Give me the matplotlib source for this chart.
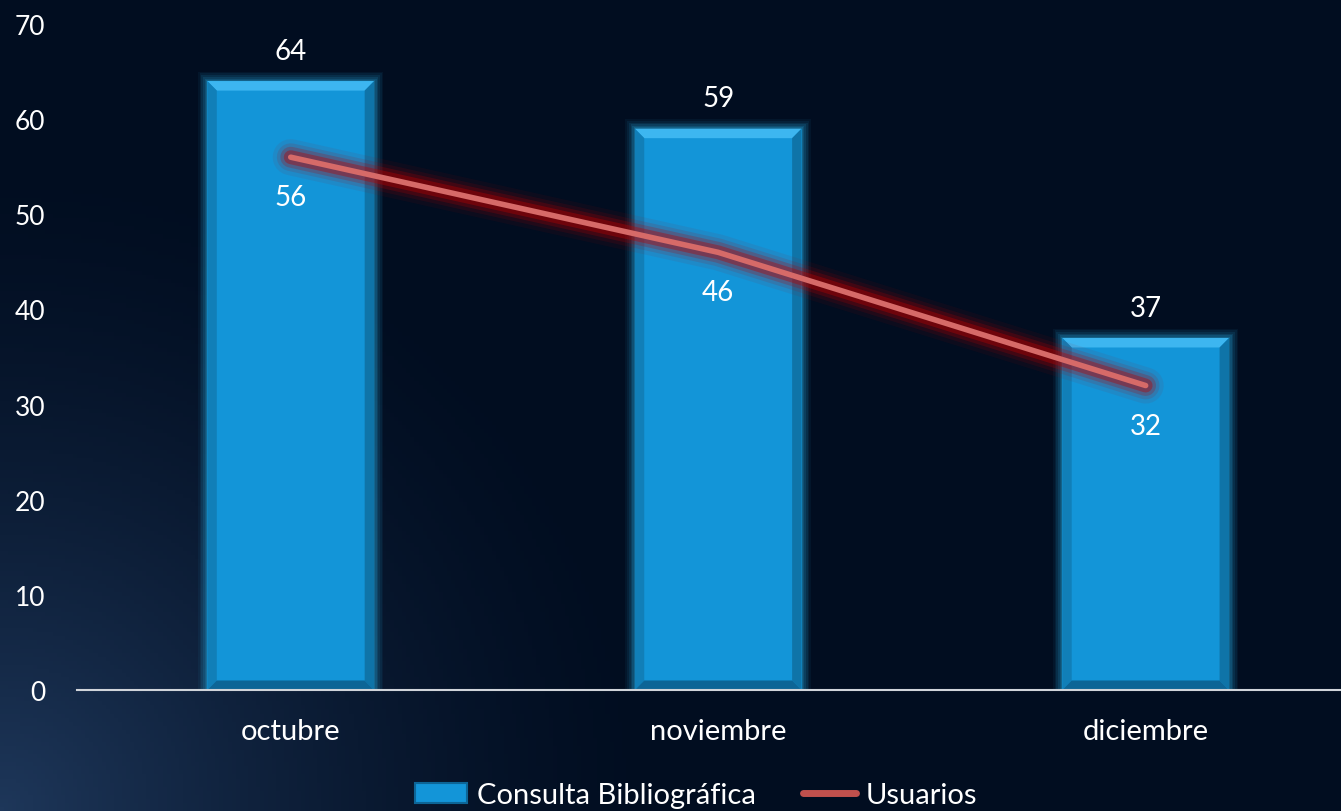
import numpy as np
import matplotlib
matplotlib.use("Agg")
import matplotlib.pyplot as plt
from matplotlib.patches import Polygon, Rectangle
from matplotlib.lines import Line2D

categories = ["octubre", "noviembre", "diciembre"]
consulta = [64, 59, 37]
usuarios = [56, 46, 32]
yticks = [0, 10, 20, 30, 40, 50, 60, 70]
series_names = ["Consulta Bibliográfica", "Usuarios"]

plt.rcParams['font.family'] = ['Lato', 'DejaVu Sans']

W, H = 1341, 812
fig = plt.figure(figsize=(W / 100, H / 100), dpi=100)

# background gradient
bg = fig.add_axes([0, 0, 1, 1], zorder=-10)
yy, xx = np.mgrid[0:1:200j, 0:1:330j]
d = np.sqrt((xx * 1.4) ** 2 + ((1 - yy) * 0.85) ** 2)
t = np.clip(1 - d / 0.7, 0, 1) ** 1.5
base = np.array([1, 13, 32]) / 255
light = np.array([30, 55, 90]) / 255
img = base[None, None, :] * (1 - t[..., None]) + light[None, None, :] * t[..., None]
bg.imshow(img, aspect='auto', extent=[0, 1, 0, 1], origin='upper')
bg.set_axis_off()

ax = fig.add_axes([77 / W, (H - 691) / H, 1 - 77 / W, (691 - 25) / H])
ax.set_facecolor('none')
x = np.arange(len(categories))
ax.set_xlim(-0.5, 2.457)
ax.set_ylim(0, 70)

bw = 0.39
bars = ax.bar(x, consulta, width=bw, color='#1395d8', zorder=3, linewidth=0)

bx = 0.022
by = 1.0
for rect in bars:
    x0, w, h = rect.get_x(), rect.get_width(), rect.get_height()
    # soft glow
    for k, a in zip([0.022, 0.018, 0.014, 0.010, 0.006, 0.003],
                    [0.06, 0.08, 0.10, 0.13, 0.16, 0.2]):
        ky = k * 45
        ax.add_patch(Rectangle((x0 - k, 0), w + 2 * k, h + ky, color='#28aee6',
                               alpha=a, zorder=2, linewidth=0))
    x1 = x0 + w
    ax.add_patch(Polygon([(x0, h), (x1, h), (x1 - bx, h - by), (x0 + bx, h - by)],
                         color='#3db6f0', zorder=4, linewidth=0))
    ax.add_patch(Polygon([(x0, h), (x0 + bx, h - by), (x0 + bx, by), (x0, 0)],
                         color='#117fb8', zorder=4, linewidth=0))
    ax.add_patch(Polygon([(x1, h), (x1 - bx, h - by), (x1 - bx, by), (x1, 0)],
                         color='#0f74a8', zorder=4, linewidth=0))
    ax.add_patch(Polygon([(x0, 0), (x1, 0), (x1 - bx, by), (x0 + bx, by)],
                         color='#0d6596', zorder=4, linewidth=0))
    ax.text(x0 + w / 2, h + 3.2, f"{int(h)}", ha='center', va='center',
            color='white', fontsize=20, zorder=6)

# line with glow
for lw, a in [(26, 0.07), (20, 0.12), (15, 0.22), (10, 0.38)]:
    ax.plot(x, usuarios, color='#b80000', lw=lw, alpha=a, solid_capstyle='round', zorder=5)
ax.plot(x, usuarios, color='#d66a68', lw=4, solid_capstyle='round', zorder=5)
for xi, v in zip(x, usuarios):
    ax.text(xi, v - 4.2, f"{v}", ha='center', va='center', color='white', fontsize=20, zorder=6)

ax.set_yticks(yticks)
ax.set_xticks(x)
ax.set_xticklabels(categories)
ax.tick_params(axis='both', length=0, colors='white', labelsize=21)
ax.tick_params(axis='y', pad=23, labelsize=19)
ax.tick_params(axis='x', pad=20)
for s in ['top', 'right', 'left']:
    ax.spines[s].set_visible(False)
ax.spines['bottom'].set_color('#d0d4da')
ax.spines['bottom'].set_linewidth(1.5)
ax.spines['bottom'].set_zorder(7)

bar_handle = Rectangle((0, 0), 1, 1, facecolor='#1395d8', edgecolor='#0d6596', linewidth=1.5)
line_handle = Line2D([0], [0], color='#c0504d', lw=5, solid_capstyle='round')
leg = fig.legend([bar_handle, line_handle], series_names, loc='center',
                 bbox_to_anchor=(696 / W, 1 - 796 / H), ncol=2, frameon=False,
                 fontsize=21, handlelength=1.8, handleheight=0.7, columnspacing=1.6,
                 handletextpad=0.35)
for t_ in leg.get_texts():
    t_.set_color('white')

fig.savefig('out.png', dpi=100)
